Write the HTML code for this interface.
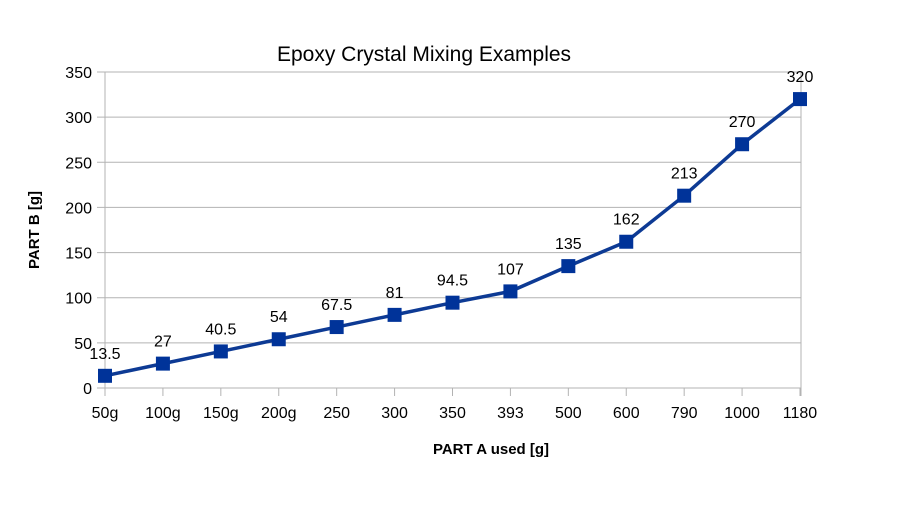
<!DOCTYPE html>
<html><head><meta charset="utf-8"><style>
body{margin:0;background:#fff;width:904px;height:515px;overflow:hidden;font-family:"Liberation Sans",sans-serif}
</style></head><body>
<svg id="chart" width="904" height="515" xmlns="http://www.w3.org/2000/svg" style="font-family:'Liberation Sans',sans-serif">
<text x="424" y="61" text-anchor="middle" font-size="21" fill="#000">Epoxy Crystal Mixing Examples</text>
<text transform="translate(39,230) rotate(-90)" text-anchor="middle" font-size="15" font-weight="bold">PART B [g]</text>
<text x="491" y="454" text-anchor="middle" font-size="15" font-weight="bold">PART A used [g]</text>
<g id="grid"></g><g id="axes"></g><g id="series"></g>
</svg>
<script>
const categories=["50g","100g","150g","200g","250","300","350","393","500","600","790","1000","1180"];
const values=[13.5,27,40.5,54,67.5,81,94.5,107,135,162,213,270,320];
const yTicks=[0,50,100,150,200,250,300,350];
const NS="http://www.w3.org/2000/svg";
const L=105,R=800,T=72,B=388,yMax=350;
const x=i=>L+i*(R-L)/(categories.length-1);
const y=v=>B-v*(B-T)/yMax;
function mk(t,a,p){const e=document.createElementNS(NS,t);for(const k in a)e.setAttribute(k,a[k]);p.appendChild(e);return e;}
const grid=document.getElementById('grid'),axes=document.getElementById('axes'),ser=document.getElementById('series');
yTicks.forEach(v=>{
 const g=mk('line',{x1:97,x2:R+1,y1:y(v),y2:y(v),stroke:'#b3b3b3','stroke-width':1},grid);
 
 
 const t=mk('text',{x:92,y:y(v)+6,'text-anchor':'end','font-size':16},axes);t.textContent=v;
 
 
});
const ax=mk('line',{x1:L,x2:L,y1:T,y2:B+8,stroke:'#b3b3b3'},axes);


const rx=mk('line',{x1:R+1,x2:R+1,y1:T,y2:B+8,stroke:'#b3b3b3'},axes);


categories.forEach((c,i)=>{
 const tk=mk('line',{x1:x(i),x2:x(i),y1:B,y2:B+8,stroke:'#b3b3b3'},axes);
 
 
 const t=mk('text',{x:x(i),y:418,'text-anchor':'middle','font-size':16},axes);t.textContent=c;
 
 
});
const pl=mk('polyline',{points:values.map((v,i)=>x(i)+','+y(v)).join(' '),fill:'none',stroke:'#0d3a94','stroke-width':3.5},ser);


values.forEach((v,i)=>{
 const m=mk('rect',{x:x(i)-7,y:y(v)-7,width:14,height:14,fill:'#003399'},ser);
 
 
 const t=mk('text',{x:x(i),y:y(v)-17,'text-anchor':'middle','font-size':16},ser);t.textContent=v;
 
 
});
</script>
</body></html>
